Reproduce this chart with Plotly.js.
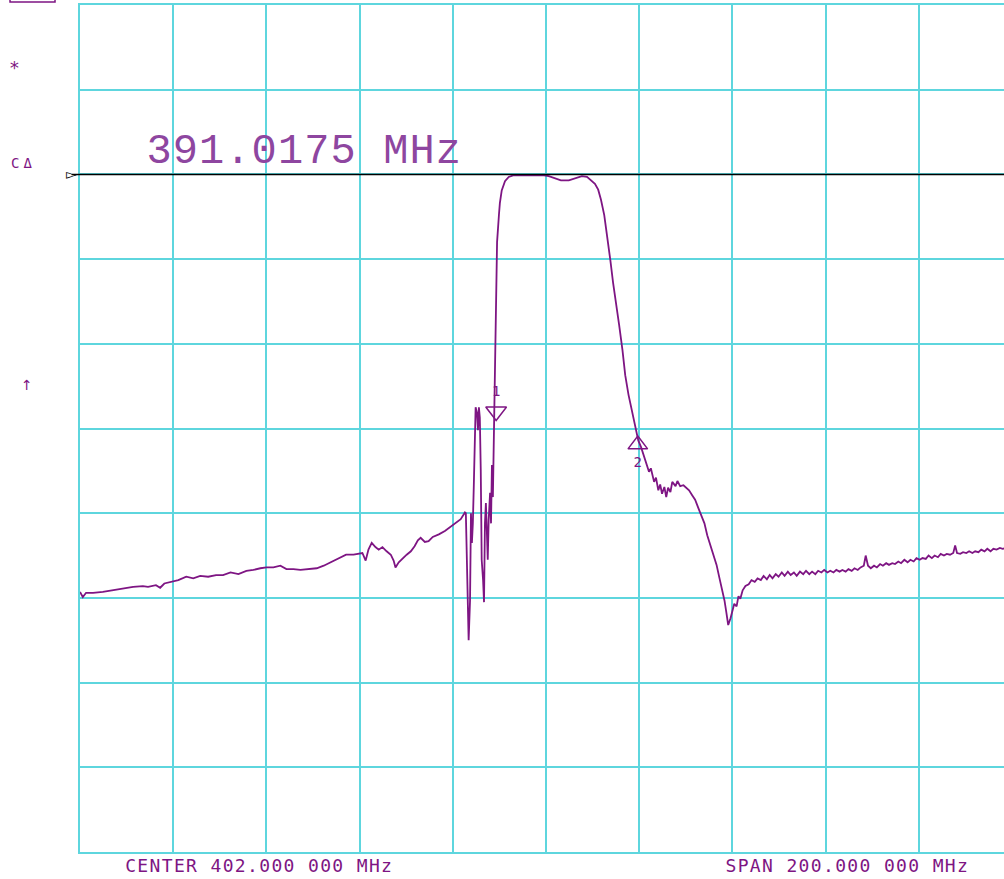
<!DOCTYPE html>
<html>
<head>
<meta charset="utf-8">
<script src="https://cdn.plot.ly/plotly-3.0.1.min.js"></script>
<style>
html,body{margin:0;padding:0;overflow:hidden;background:#fff;}
#chart{width:1020px;height:879px;}
</style>
</head>
<body>
<div id="chart"></div>
<script>
// Frequency (MHz) and response (dB, 10 dB/div, reference line = 0 dB)
const freqMHz = [
302.0,302.6,303.3,304.8,306.9,309.1,311.2,313.4,315.5,316.6,318.3,319.2,320.1,321.4,323.1,324.8,326.3,327.8,329.5,331.2,
332.7,334.3,336.0,337.7,339.2,340.7,342.0,343.5,345.0,346.3,347.8,349.3,351.0,352.8,354.3,355.8,357.5,359.1,360.7,361.8,
362.6,363.3,363.9,364.6,365.4,366.1,366.9,367.8,368.7,369.3,369.7,370.4,371.3,372.1,373.0,373.8,374.5,375.1,376.0,376.8,
377.7,379.0,380.3,381.6,382.9,383.7,384.4,384.6,
384.8,385.0,385.2,385.4,385.7,385.9,386.1,386.3,386.5,386.7,386.9,387.2,387.4,387.6,387.8,388.0,388.2,388.5,388.7,388.9,
389.1,389.3,389.5,389.7,390.0,390.2,390.4,390.6,390.8,391.0,
391.2,391.5,391.9,392.1,392.5,393.2,394.0,395.1,397.3,399.4,401.6,402.6,403.7,405.2,406.9,408.4,409.7,410.8,411.7,412.5,
413.2,413.8,414.5,415.1,415.8,416.4,417.1,417.7,418.4,419.0,419.7,420.3,420.8,421.2,421.8,422.4,422.9,423.5,424.1,424.5,
425.2,425.6,426.1,426.5,426.9,427.4,427.8,428.2,428.7,429.1,429.8,430.2,430.8,431.5,432.1,432.7,433.4,434.0,434.7,435.3,
436.0,436.6,437.3,437.9,438.6,439.2,439.9,440.3,440.7,441.1,441.6,442.0,442.4,442.9,443.3,443.7,444.2,444.8,445.5,446.1,
446.8,447.4,448.1,448.7,449.4,450.0,450.6,451.3,451.9,452.6,453.2,453.9,454.5,455.2,455.8,456.5,457.2,457.8,458.5,459.1,
459.8,460.4,461.1,461.7,462.4,463.0,463.7,464.3,465.0,465.6,466.3,466.9,467.6,468.2,468.9,469.5,470.2,470.6,471.1,471.7,
472.4,473.0,473.7,474.3,475.0,475.6,476.3,476.9,477.6,478.2,478.9,479.6,480.2,480.9,481.5,482.2,482.8,483.5,484.1,484.8,
485.4,486.1,486.7,487.4,488.0,488.7,489.4,489.8,490.2,490.9,491.5,492.2,492.8,493.5,494.1,494.8,495.4,496.1,496.7,497.4,
498.0,498.7,499.4,500.0,500.7,501.7,502.0
];
const responseDb = [
-49.3,-49.9,-49.4,-49.4,-49.3,-49.1,-48.9,-48.7,-48.6,-48.7,-48.5,-48.8,-48.3,-48.1,-47.9,-47.5,-47.7,-47.4,-47.5,-47.3,
-47.3,-47.0,-47.2,-46.8,-46.7,-46.5,-46.4,-46.4,-46.2,-46.6,-46.6,-46.7,-46.6,-46.5,-46.2,-45.8,-45.3,-44.9,-44.9,-44.8,
-44.7,-45.6,-44.3,-43.5,-44.0,-44.3,-44.0,-44.5,-44.9,-45.6,-46.4,-45.8,-45.3,-44.9,-44.5,-43.9,-43.2,-42.9,-43.4,-43.3,
-42.8,-42.5,-42.1,-41.6,-41.0,-40.7,-40.1,-39.9,
-40.0,-44.0,-48.7,-55.0,-50.3,-40.0,-43.5,-41.2,-36.9,-32.5,-27.5,-28.2,-30.2,-27.5,-28.7,-34.9,-45.5,-47.9,-50.5,-41.2,
-38.8,-42.0,-45.5,-40.8,-37.6,-41.2,-34.3,-38.1,-31.4,-29.8,
-19.9,-8.0,-4.8,-3.4,-1.9,-0.8,-0.3,-0.1,-0.1,-0.1,-0.1,-0.2,-0.4,-0.7,-0.7,-0.4,-0.2,-0.3,-0.7,-1.1,
-1.8,-3.0,-4.8,-7.1,-10.1,-12.8,-15.2,-17.8,-20.7,-23.7,-26.0,-27.6,-28.8,-30.2,-31.4,-32.2,-33.1,-34.0,-35.1,-34.7,
-36.3,-35.8,-37.3,-36.6,-37.7,-36.9,-38.1,-37.0,-37.5,-36.3,-36.8,-36.2,-36.8,-36.7,-37.0,-37.3,-37.9,-38.4,-39.4,-40.2,
-41.2,-42.6,-43.8,-44.9,-46.1,-47.6,-49.1,-50.3,-51.7,-53.2,-52.4,-51.4,-50.7,-51.0,-49.8,-50.1,-49.1,-48.6,-48.4,-47.9,
-48.1,-47.7,-47.9,-47.4,-47.8,-47.3,-47.7,-47.2,-47.5,-47.0,-47.4,-46.9,-47.3,-47.0,-47.4,-46.9,-47.2,-46.8,-47.2,-46.9,
-47.2,-46.8,-47.0,-46.7,-47.0,-46.8,-47.0,-46.7,-46.9,-46.7,-46.9,-46.6,-46.8,-46.5,-46.7,-46.4,-46.2,-45.0,-46.2,-46.5,
-46.2,-46.4,-46.0,-46.2,-45.9,-46.1,-45.9,-46.0,-45.7,-45.9,-45.5,-45.8,-45.5,-45.7,-45.3,-45.5,-45.3,-45.4,-45.0,-45.3,
-45.0,-45.2,-44.8,-45.0,-44.8,-44.9,-44.7,-43.8,-44.7,-44.8,-44.6,-44.7,-44.5,-44.7,-44.5,-44.6,-44.3,-44.5,-44.2,-44.5,
-44.2,-44.3,-44.1,-44.2,-44.1,-44.0,-44.0
];
// Markers
const markerLabels = ["1", "2"];
const markerFreq = [391.3, 421.7];
const markerDb = [-28.0, -31.9];
const markerReadout = "391.0175 MHz";
const centerLabel = "CENTER 402.000 000 MHz";
const spanLabel = "SPAN 200.000 000 MHz";

const purple = "#7E1583";
const textPurple = "#8E46A0";
const cyan = "#5ED6DE";

const traces = [
  {x: freqMHz, y: responseDb, type: "scatter", mode: "lines",
   line: {color: purple, width: 1.8, shape: "linear"}, hoverinfo: "skip"},
  {x: [markerFreq[0]], y: [markerDb[0]], type: "scatter", mode: "markers+text",
   text: [markerLabels[0]], textposition: "top center",
   textfont: {family: "DejaVu Sans Mono", size: 14, color: purple},
   marker: {symbol: "triangle-down-open", size: 18, color: purple, line: {color: purple, width: 1.5}},
   cliponaxis: false, hoverinfo: "skip"},
  {x: [markerFreq[1]], y: [markerDb[1]], type: "scatter", mode: "markers+text",
   text: [markerLabels[1]], textposition: "bottom center",
   textfont: {family: "DejaVu Sans Mono", size: 14, color: purple},
   marker: {symbol: "triangle-up-open", size: 17, color: purple, line: {color: purple, width: 1.5}},
   cliponaxis: false, hoverinfo: "skip"}
];

const W = 1020, H = 879;
const layout = {
  width: W, height: H,
  margin: {l: 80, r: 8, t: 5, b: 27, pad: 0},
  paper_bgcolor: "#fff", plot_bgcolor: "#fff",
  showlegend: false,
  xaxis: {range: [302, 502], dtick: 20, tick0: 302, showticklabels: false, ticks: "",
          showgrid: true, gridcolor: cyan, gridwidth: 2, zeroline: false,
          showline: true, mirror: true, linecolor: cyan, linewidth: 2, fixedrange: true},
  yaxis: {range: [-80, 20], dtick: 10, tick0: 0, showticklabels: false, ticks: "",
          showgrid: true, gridcolor: cyan, gridwidth: 2, zeroline: false,
          showline: true, mirror: true, linecolor: cyan, linewidth: 2, fixedrange: true},
  shapes: [
    {type: "line", xref: "paper", yref: "y", x0: -0.009, x1: 1, y0: 0, y1: 0,
     line: {color: "#000", width: 1.5}, layer: "above"},
    {type: "rect", xref: "paper", yref: "paper", x0: -0.0751, x1: -0.0268, y0: 1.0035, y1: 1.03,
     line: {color: purple, width: 1.5}}
  ],
  annotations: [
    {xref: "paper", yref: "paper", x: 0.2403, y: 0.8264, xanchor: "center", yanchor: "middle",
     text: markerReadout, showarrow: false,
     font: {family: "Liberation Mono", size: 42, color: textPurple}},
    {xref: "paper", yref: "paper", x: 0.1925, y: -0.0165, xanchor: "center", yanchor: "middle",
     text: centerLabel, showarrow: false, font: {family: "DejaVu Sans Mono", size: 18, color: purple}},
    {xref: "paper", yref: "paper", x: 0.8235, y: -0.0165, xanchor: "center", yanchor: "middle",
     text: spanLabel, showarrow: false, font: {family: "DejaVu Sans Mono", size: 18, color: purple}},
    {xref: "paper", yref: "paper", x: -0.0708, y: 0.9268, xanchor: "center", yanchor: "middle",
     text: "*", showarrow: false, font: {family: "DejaVu Sans Mono", size: 18, color: purple}},
    {xref: "paper", yref: "paper", x: -0.0605, y: 0.8135, xanchor: "center", yanchor: "middle",
     text: "CΔ", showarrow: false, font: {family: "DejaVu Sans Mono", size: 14, color: purple}},
    {xref: "paper", yref: "paper", x: -0.0569, y: 0.5514, xanchor: "center", yanchor: "middle",
     text: "↑", showarrow: false, font: {family: "DejaVu Sans", size: 14, color: purple}},
    {xref: "paper", yref: "y", x: -0.0095, y: 0, xanchor: "center", yanchor: "middle",
     text: "▻", showarrow: false, font: {family: "DejaVu Sans", size: 14, color: "#000"}}
  ]
};

Plotly.newPlot("chart", traces, layout, {displayModeBar: false, staticPlot: true}).then(function(){
  // widen the instrument-style lettering of the readouts
  const anns = document.querySelectorAll("#chart .annotation-text");
  anns.forEach(function(t){
    const s = t.textContent;
    if (s === centerLabel || s === spanLabel) t.style.letterSpacing = "1.35px";
    if (s === markerReadout) t.style.letterSpacing = "1.1px";
    if (s === "CΔ") t.style.letterSpacing = "4px";
  });
});
</script>
</body>
</html>
